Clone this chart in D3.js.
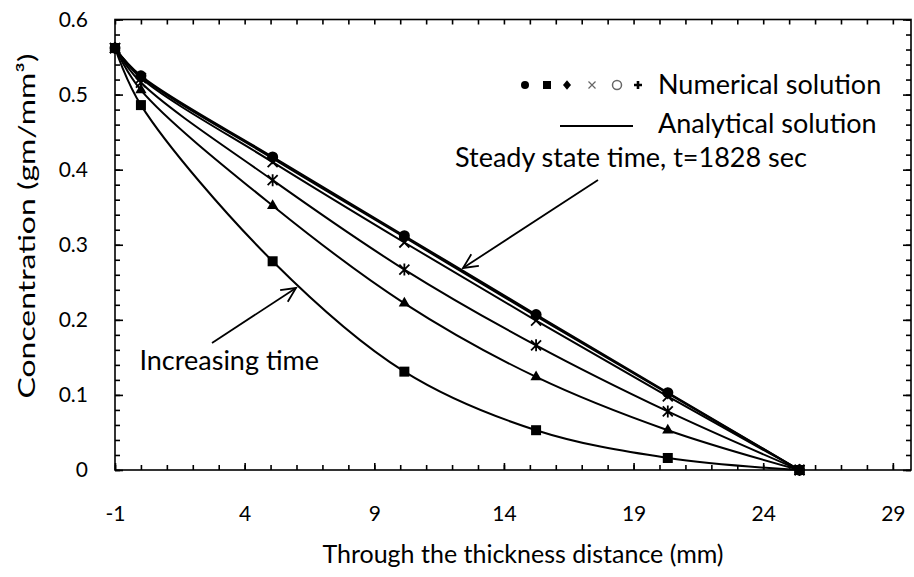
<!DOCTYPE html>
<html><head><meta charset="utf-8">
<script src="https://cdn.jsdelivr.net/npm/d3@7"></script>
<style>
body{margin:0;background:#fff}
svg{display:block}
text{font-family:Lato,'Open Sans',sans-serif;fill:#000}
</style>
</head><body>
<svg id="c" width="914" height="577"></svg>
<script>
// ---- data ----
const xValues = [-1, 0, 5.08, 10.16, 15.24, 20.32, 25.4];
const seriesSquare   = [0.562, 0.486, 0.278, 0.131, 0.053, 0.016, 0];
const seriesTriangle = [0.562, 0.506, 0.352, 0.222, 0.124, 0.053, 0];
const seriesStar     = [0.562, 0.516, 0.386, 0.267, 0.166, 0.078, 0];
const seriesCross    = [0.562, 0.522, 0.410, 0.303, 0.199, 0.098, 0];
const seriesDiamond  = [0.562, 0.524, 0.415, 0.310, 0.205, 0.102, 0];
const seriesCircle   = [0.562, 0.525, 0.417, 0.312, 0.207, 0.103, 0];
const xTickLabels = [-1, 4, 9, 14, 19, 24, 29];
const yTickLabels = [0, 0.1, 0.2, 0.3, 0.4, 0.5, 0.6];
const legendLabels = ["Numerical solution", "Analytical solution"];
const annotationLabels = ["Steady state time, t=1828 sec", "Increasing time"];

const series = [
  {values: seriesSquare, marker: "square"},
  {values: seriesTriangle, marker: "triangle"},
  {values: seriesStar, marker: "star"},
  {values: seriesCross, marker: "cross"},
  {values: seriesDiamond, marker: "diamond"},
  {values: seriesCircle, marker: "circle"}
];

const svg = d3.select("#c");
const L = 115, R = 911, T = 19.5, B = 470;
const x = d3.scaleLinear().domain([-1, 29.7]).range([L, R]);
const y = d3.scaleLinear().domain([0, 0.6]).range([B, T]);

const minorX = d3.range(-1, 30, 1);
const minorY = d3.range(0, 0.601, 0.02);

// frame
svg.append("rect").attr("x", L).attr("y", T).attr("width", R - L).attr("height", B - T)
  .attr("fill", "none").attr("stroke", "#000").attr("stroke-width", 1.6);

function styleAxis(g){ g.select(".domain").remove(); g.selectAll("line").attr("stroke","#000").attr("stroke-width",1.6); }

// bottom ticks
svg.append("g").attr("transform", `translate(0,${B})`)
  .call(d3.axisBottom(x).tickValues(minorX).tickSize(-5).tickFormat("")).call(styleAxis);
svg.append("g").attr("transform", `translate(0,${B})`)
  .call(d3.axisBottom(x).tickValues(xTickLabels).tickSize(-7).tickPadding(36).tickFormat(d => String(d)))
  .call(styleAxis)
  .selectAll("text").attr("font-size", 21);
// top ticks
svg.append("g").attr("transform", `translate(0,${T})`)
  .call(d3.axisTop(x).tickValues(minorX).tickSize(-5).tickFormat("")).call(styleAxis);
// left ticks
svg.append("g").attr("transform", `translate(${L},0)`)
  .call(d3.axisLeft(y).tickValues(minorY).tickSize(-5).tickFormat("")).call(styleAxis);
svg.append("g").attr("transform", `translate(${L},0)`)
  .call(d3.axisLeft(y).tickValues(yTickLabels).tickSize(-8).tickPadding(27).tickFormat(d => d === 0 ? "0" : d3.format(".1f")(d)))
  .call(styleAxis)
  .selectAll("text").attr("font-size", 21);
// right ticks
svg.append("g").attr("transform", `translate(${R},0)`)
  .call(d3.axisRight(y).tickValues(minorY).tickSize(-5).tickFormat("")).call(styleAxis);
svg.append("g").attr("transform", `translate(${R},0)`)
  .call(d3.axisRight(y).tickValues(yTickLabels).tickSize(-8).tickFormat("")).call(styleAxis);

// axis titles
svg.append("text").attr("x", 523).attr("y", 563).attr("text-anchor", "middle")
  .attr("font-size", 25).text("Through the thickness distance (mm)");
svg.append("text").attr("transform", `translate(27,226) rotate(-90)`)
  .attr("text-anchor", "middle").attr("dy", "0.35em").attr("font-size", 24)
  .attr("textLength", 345).attr("lengthAdjust", "spacingAndGlyphs")
  .text("Concentration (gm/mm³)");

// lines
const line = d3.line().x((d, i) => x(xValues[i])).y(d => y(d)).curve(d3.curveCatmullRom.alpha(0.5));
const plot = svg.append("g");
series.forEach(s => {
  plot.append("path").attr("d", line(s.values)).attr("fill", "none")
    .attr("stroke", "#000").attr("stroke-width", 2);
});

// markers
function drawMarker(g, type, cx, cy, s, col){
  col = col || "#000";
  if (type === "square") {
    g.append("rect").attr("x", cx - s/2).attr("y", cy - s/2).attr("width", s).attr("height", s).attr("fill", col);
  } else if (type === "triangle") {
    g.append("path").attr("d", d3.symbol(d3.symbolTriangle, s * s * 0.55)()).attr("transform", `translate(${cx},${cy})`).attr("fill", col);
  } else if (type === "diamond") {
    g.append("path").attr("d", `M${cx},${cy - s*0.6}L${cx + s*0.5},${cy}L${cx},${cy + s*0.6}L${cx - s*0.5},${cy}Z`).attr("fill", col);
  } else if (type === "circle") {
    g.append("circle").attr("cx", cx).attr("cy", cy).attr("r", s/2).attr("fill", col);
  } else if (type === "cross") {
    const h = s/2;
    g.append("path").attr("d", `M${cx-h},${cy-h}L${cx+h},${cy+h}M${cx-h},${cy+h}L${cx+h},${cy-h}`).attr("stroke", col).attr("stroke-width", col === "#000" ? 1.8 : 1.2);
  } else if (type === "star") {
    const h = s/2;
    g.append("path").attr("d", `M${cx-h},${cy-h}L${cx+h},${cy+h}M${cx-h},${cy+h}L${cx+h},${cy-h}M${cx},${cy-h-1}L${cx},${cy+h+1}`).attr("stroke", col).attr("stroke-width", 1.8);
  } else if (type === "ocircle") {
    g.append("circle").attr("cx", cx).attr("cy", cy).attr("r", s/2).attr("fill", "none").attr("stroke", col).attr("stroke-width", 1.5);
  } else if (type === "plus") {
    const h = s/2;
    g.append("path").attr("d", `M${cx-h},${cy}L${cx+h},${cy}M${cx},${cy-h}L${cx},${cy+h}`).attr("stroke", col).attr("stroke-width", 2.6);
  }
}
series.forEach(s => {
  s.values.forEach((v, i) => drawMarker(plot, s.marker, x(xValues[i]), y(v), s.marker === "circle" ? 11 : 10));
});

// legend
const leg = svg.append("g");
const legMarkers = ["circle", "square", "diamond", "cross", "ocircle", "plus"];
const legX = [525, 547, 567, 592, 617, 638];
legMarkers.forEach((m, i) => drawMarker(leg, m, legX[i], 85,
  m === "cross" ? 7 : (m === "ocircle" ? 9 : 8),
  (m === "cross" || m === "ocircle") ? "#666" : "#000"));
leg.append("text").attr("x", 658).attr("y", 85).attr("dy", "0.35em").attr("font-size", 27).text(legendLabels[0]);
leg.append("line").attr("x1", 560).attr("x2", 633).attr("y1", 126).attr("y2", 126).attr("stroke", "#000").attr("stroke-width", 2);
leg.append("text").attr("x", 658).attr("y", 124).attr("dy", "0.35em").attr("font-size", 27).text(legendLabels[1]);

// annotations
svg.append("text").attr("x", 455).attr("y", 158).attr("dy", "0.35em").attr("font-size", 27).text(annotationLabels[0]);
svg.append("text").attr("x", 319).attr("y", 361).attr("dy", "0.35em").attr("text-anchor", "end").attr("font-size", 27).text(annotationLabels[1]);

function arrow(x1, y1, x2, y2){
  const g = svg.append("g");
  g.append("line").attr("x1", x1).attr("y1", y1).attr("x2", x2).attr("y2", y2).attr("stroke", "#000").attr("stroke-width", 1.8);
  const ang = Math.atan2(y1 - y2, x1 - x2), len = 16, spread = 0.45;
  const p1 = [x2 + len*Math.cos(ang + spread), y2 + len*Math.sin(ang + spread)];
  const p2 = [x2 + len*Math.cos(ang - spread), y2 + len*Math.sin(ang - spread)];
  g.append("path").attr("d", `M${p1[0]},${p1[1]}L${x2},${y2}L${p2[0]},${p2[1]}`).attr("fill", "none").attr("stroke", "#000").attr("stroke-width", 1.8);
}
arrow(598, 180, 463, 268);
arrow(212, 343, 296, 288);
</script>
</body></html>
